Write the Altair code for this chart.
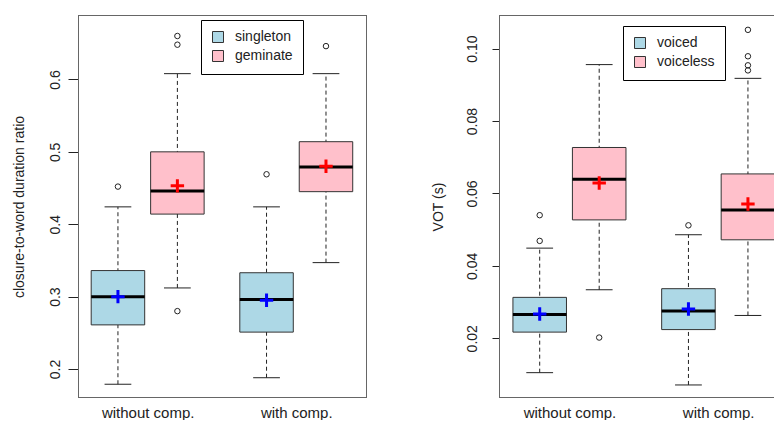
import altair as alt
import pandas as pd

groups = ["without comp.", "with comp."]

# box order: (without, class A), (without, class B), (with, class A), (with, class B)
ratio_classes = ["singleton", "geminate"]
ratio_low = [0.179, 0.312, 0.188, 0.347]
ratio_q1 = [0.261, 0.414, 0.251, 0.445]
ratio_median = [0.300, 0.446, 0.296, 0.479]
ratio_q3 = [0.336, 0.500, 0.333, 0.514]
ratio_high = [0.424, 0.608, 0.424, 0.608]
ratio_mean = [0.300, 0.453, 0.295, 0.480]
ratio_outlier_box = [0, 1, 1, 1, 2, 3]
ratio_outlier_value = [0.452, 0.280, 0.648, 0.660, 0.469, 0.646]
ratio_ticks = [0.2, 0.3, 0.4, 0.5, 0.6]

vot_classes = ["voiced", "voiceless"]
vot_low = [0.0105, 0.0334, 0.0071, 0.0263]
vot_q1 = [0.0217, 0.0527, 0.0224, 0.0472]
vot_median = [0.0266, 0.0639, 0.0275, 0.0554]
vot_q3 = [0.0313, 0.0727, 0.0337, 0.0654]
vot_high = [0.0449, 0.0956, 0.0486, 0.0918]
vot_mean = [0.0267, 0.0629, 0.0281, 0.0571]
vot_outlier_box = [0, 0, 1, 2, 3, 3, 3, 3]
vot_outlier_value = [0.0469, 0.0540, 0.0202, 0.0512, 0.0940, 0.0954, 0.0979, 0.1052]
vot_ticks = [0.02, 0.04, 0.06, 0.08, 0.10]

fill_colors = ["#ADD8E6", "#FFC0CB"]
mean_colors = ["#0000FF", "#FF0000"]

GROUP_STEP = 2.5
BOX_HALF = 0.45
CAP_HALF = 0.225
TEXT = "#222222"
group_centers = [1 + g * GROUP_STEP + 0.5 for g in range(len(groups))]


def box_table(classes, low, q1, med, q3, high, mean):
    rows = []
    for i in range(len(low)):
        g, s = divmod(i, 2)
        rows.append(dict(group=groups[g], cls=classes[s], sub=s,
                         pos=1 + g * GROUP_STEP + s,
                         low=low[i], q1=q1[i], median=med[i], q3=q3[i], high=high[i], mean=mean[i]))
    return pd.DataFrame(rows)


def outlier_table(box_idx, values):
    rows = []
    for b, v in zip(box_idx, values):
        g, s = divmod(b, 2)
        rows.append(dict(pos=1 + g * GROUP_STEP + s, value=v))
    return pd.DataFrame(rows)


def panel(classes, low, q1, med, q3, high, mean, out_box, out_val, ticks, fmt,
          ydomain, xdomain, title, width, height, frame_extra, legend_xy, tick_size,
          label_pad, title_pad):
    df = box_table(classes, low, q1, med, q3, high, mean)
    odf = outlier_table(out_box, out_val)
    xscale = alt.Scale(domain=xdomain, zero=False, nice=False)
    yscale = alt.Scale(domain=ydomain, zero=False, nice=False)
    label_expr = f"datum.value < {(group_centers[0] + group_centers[1]) / 2} ? '{groups[0]}' : '{groups[1]}'"
    xaxis = alt.Axis(values=group_centers, labelExpr=label_expr, ticks=False, domain=False,
                     grid=False, labelPadding=7, labelFontSize=15, labelColor=TEXT, title=None)
    yaxis = alt.Axis(values=ticks, format=fmt, labelAngle=270, labelAlign="center",
                     labelBaseline="bottom", tickSize=tick_size, labelPadding=label_pad,
                     labelFontSize=14, labelColor=TEXT, tickColor=TEXT, domain=False, grid=False,
                     title=title, titlePadding=title_pad, titleFontSize=14,
                     titleFontWeight="normal", titleColor=TEXT)

    def X(field):
        return alt.X(f"{field}:Q", scale=xscale, axis=xaxis)

    def Y(field):
        return alt.Y(f"{field}:Q", scale=yscale, axis=yaxis)

    base = alt.Chart(df).transform_calculate(
        xl=f"datum.pos - {BOX_HALF}", xr=f"datum.pos + {BOX_HALF}",
        cl=f"datum.pos - {CAP_HALF}", cr=f"datum.pos + {CAP_HALF}")

    frame = alt.Chart(pd.DataFrame({"f": [0]})).mark_rect(
        filled=False, stroke="#666666", strokeWidth=2, clip=True).encode(
        x=alt.value(0), x2=alt.value(width + frame_extra), y=alt.value(0), y2=alt.value(height))

    whisk = base.mark_rule(strokeDash=[4, 3], color=TEXT, strokeWidth=1, clip=True).encode(
        x=X("pos"), y=Y("low"), y2="high:Q")
    cap_lo = base.mark_rule(color=TEXT, strokeWidth=1, clip=True).encode(
        x=X("cl"), x2="cr:Q", y=Y("low"))
    cap_hi = base.mark_rule(color=TEXT, strokeWidth=1, clip=True).encode(
        x=X("cl"), x2="cr:Q", y=Y("high"))
    box = base.mark_rect(stroke="#333333", strokeWidth=1, clip=True).encode(
        x=X("xl"), x2="xr:Q", y=Y("q1"), y2="q3:Q",
        fill=alt.Fill("cls:N", scale=alt.Scale(domain=classes, range=fill_colors),
                      legend=alt.Legend(orient="none", legendX=legend_xy[0], legendY=legend_xy[1],
                                        title=None, strokeColor="black", fillColor="white",
                                        padding=10, symbolType="square", symbolSize=121,
                                        symbolStrokeColor="#333333", symbolStrokeWidth=1,
                                        symbolOpacity=1, labelFontSize=14, labelOffset=10,
                                        rowPadding=3, labelColor=TEXT)))
    median_line = base.mark_rule(color="black", strokeWidth=3, clip=True).encode(
        x=X("xl"), x2="xr:Q", y=Y("median"))
    means = [
        base.transform_filter(f"datum.sub == {s}").mark_point(
            shape="M-1,0L1,0M0,-1L0,1", filled=False, size=180, strokeWidth=3, opacity=1,
            stroke=mean_colors[s], clip=True).encode(x=X("pos"), y=Y("mean"))
        for s in range(len(classes))
    ]
    outl = alt.Chart(odf).mark_point(shape="circle", filled=False, size=30, stroke=TEXT,
                                     strokeWidth=1, opacity=1, clip=True).encode(
        x=X("pos"), y=Y("value"))
    return alt.layer(frame, whisk, cap_lo, cap_hi, box, median_line, *means, outl).properties(
        width=width, height=height)


left = panel(ratio_classes, ratio_low, ratio_q1, ratio_median, ratio_q3, ratio_high, ratio_mean,
             ratio_outlier_box, ratio_outlier_value, ratio_ticks, ".1f",
             [0.160, 0.689], [0.328, 5.19], "closure-to-word duration ratio", 289, 383, 0,
             (123, 5), 10, 6, 22)
right = panel(vot_classes, vot_low, vot_q1, vot_median, vot_q3, vot_high, vot_mean,
              vot_outlier_box, vot_outlier_value, vot_ticks, ".2f",
              [0.0035, 0.1093], [0.316, 4.938], "VOT (s)", 275, 383, 30,
              (124, 11), 7, 13, 20)

chart = alt.hconcat(left, right, spacing=64).resolve_scale(
    fill="independent").properties(
    padding={"left": 4, "top": 7, "right": 0, "bottom": 0},
    background="white").configure(font="Liberation Sans").configure_view(stroke=None)

chart.save("out.html", embed_options={"renderer": "svg", "actions": False})
